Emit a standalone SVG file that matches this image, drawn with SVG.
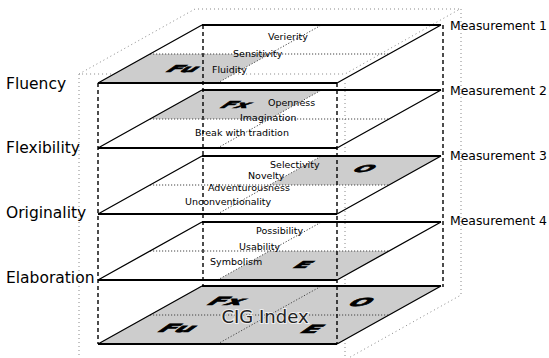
<svg xmlns="http://www.w3.org/2000/svg" width="549" height="358" viewBox="0 0 549 358">
<style>
.edge{fill:none;stroke:#000;stroke-width:1.3}
.thick{fill:none;stroke:#000;stroke-width:2.2}
.shade{fill:#cdcdcd;stroke:none}
.mid{fill:none;stroke:#444;stroke-width:1;stroke-dasharray:1.2 1.8}
.dash{fill:none;stroke:#000;stroke-width:1.4;stroke-dasharray:4 3}
.dot{fill:none;stroke:#888;stroke-width:1;stroke-dasharray:1 3}
.lbl{font-family:"DejaVu Sans",Verdana,sans-serif;font-size:9.5px;fill:#000}
.side{font-family:"DejaVu Sans",Verdana,sans-serif;font-size:15.5px;fill:#000}
.meas{font-family:"DejaVu Sans",Verdana,sans-serif;font-size:12.4px;fill:#000}
.dim{font-family:"DejaVu Sans",Verdana,sans-serif;font-weight:bold;font-size:16px;fill:#000;stroke:#000;stroke-width:0.9;text-anchor:middle}
.cig{font-family:"DejaVu Sans",Verdana,sans-serif;font-size:18px;fill:#222;text-anchor:middle;stroke:#eee;stroke-width:2;paint-order:stroke}
</style>

<!-- outer dotted box (behind) -->
<g id="outer-box" class="dot">
<path d="M79,74 L195,9 L460,9 L345,74 Z"/>
<path d="M79,74 L79,358"/>
<path d="M461,9 L461,295 L345,360"/>
<path d="M345,83 L345,358"/>
</g>

<g id="plane-1">
<polygon class="shade" points="98,83 217.5,83 269.5,54 150,54"/>
<path class="mid" d="M150,54 L389,54 M217.5,83 L321.5,25"/>
<path class="edge" d="M98,83 L202,25 M337,83 L441,25"/>
<path class="thick" d="M98,83 L337,83 M202,25 L441,25"/>
<text class="dim" transform="translate(179,72) skewX(-55) scale(1.4,0.6)">Fu</text>
<text class="lbl" x="268" y="40">Verierity</text>
<text class="lbl" x="233" y="57">Sensitivity</text>
<text class="lbl" x="212" y="73">Fluidity</text>
</g>

<g id="plane-2">
<polygon class="shade" points="150,119 269.5,119 321.5,90 202,90"/>
<path class="mid" d="M150,119 L389,119 M217.5,148 L321.5,90"/>
<path class="edge" d="M98,148 L202,90 M337,148 L441,90"/>
<path class="thick" d="M98,148 L337,148 M202,90 L441,90"/>
<text class="dim" transform="translate(232,108) skewX(-55) scale(1.3,0.6)">Fx</text>
<text class="lbl" x="268" y="106">Openness</text>
<text class="lbl" x="240" y="121">Imagination</text>
<text class="lbl" x="195" y="136">Break with tradition</text>
</g>

<g id="plane-3">
<polygon class="shade" points="269.5,185 389,185 441,156 321.5,156"/>
<path class="mid" d="M150,185 L389,185 M217.5,214 L321.5,156"/>
<path class="edge" d="M98,214 L202,156 M337,214 L441,156"/>
<path class="thick" d="M98,214 L337,214 M202,156 L441,156"/>
<text class="dim" transform="translate(360,172) skewX(-55) scale(1.4,0.6)">O</text>
<text class="lbl" x="270" y="168">Selectivity</text>
<text class="lbl" x="248" y="179">Novelty</text>
<text class="lbl" x="208" y="191">Adventurousness</text>
<text class="lbl" x="185" y="205">Unconventionality</text>
</g>

<g id="plane-4">
<polygon class="shade" points="217.5,280 337,280 389,251 269.5,251"/>
<path class="mid" d="M150,251 L389,251 M217.5,280 L321.5,222"/>
<path class="edge" d="M98,280 L202,222 M337,280 L441,222"/>
<path class="thick" d="M98,280 L337,280 M202,222 L441,222"/>
<text class="dim" transform="translate(299,268) skewX(-55) scale(1.4,0.6)">E</text>
<text class="lbl" x="256" y="234">Possibility</text>
<text class="lbl" x="239" y="250">Usability</text>
<text class="lbl" x="210" y="265">Symbolism</text>
</g>

<g id="cig-index">
<polygon class="shade" points="98,344 337,344 441,286 202,286"/>
<path class="mid" d="M150,315 L389,315 M217.5,344 L321.5,286"/>
<path class="edge" d="M98,344 L202,286 M337,344 L441,286"/>
<path class="thick" d="M98,344 L337,344 M202,286 L441,286"/>
<text class="dim" transform="translate(222,305) skewX(-55) scale(1.6,0.7)">Fx</text>
<text class="dim" transform="translate(356,306) skewX(-55) scale(1.5,0.7)">O</text>
<text class="dim" transform="translate(173,332) skewX(-55) scale(1.6,0.7)">Fu</text>
<text class="dim" transform="translate(307,333) skewX(-55) scale(1.6,0.7)">E</text>
<text class="cig" x="265" y="323">CIG Index</text>
</g>

<g id="connectors" class="dash">
<path d="M98,83 L98,344"/>
<path d="M203,25 L203,287"/>
<path d="M337,83 L337,344"/>
<path d="M443,25 L443,287"/>
</g>

<g id="dimension-labels">
<text class="side" x="6" y="89">Fluency</text>
<text class="side" x="6" y="153">Flexibility</text>
<text class="side" x="6" y="218">Originality</text>
<text class="side" x="6" y="283">Elaboration</text>
</g>

<g id="measurement-labels">
<text class="meas" x="450" y="30">Measurement 1</text>
<text class="meas" x="450" y="95">Measurement 2</text>
<text class="meas" x="450" y="160">Measurement 3</text>
<text class="meas" x="450" y="225">Measurement 4</text>
</g>
</svg>
